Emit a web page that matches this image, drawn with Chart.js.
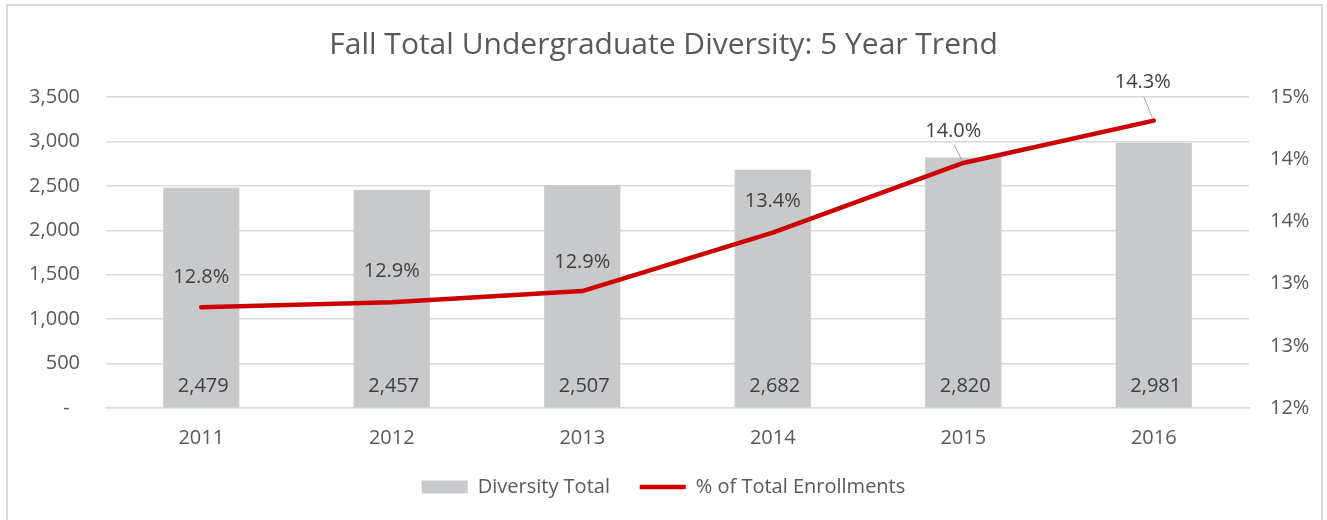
<!DOCTYPE html>
<html>
<head>
<meta charset="utf-8">
<script src="https://cdn.jsdelivr.net/npm/chart.js@4.4.1/dist/chart.umd.min.js"></script>
<style>
  html, body { margin: 0; padding: 0; background: #fff; }
  #wrap { position: relative; width: 1327px; height: 520px; }
</style>
</head>
<body>
<div id="wrap"><canvas id="c" width="1327" height="520"></canvas></div>
<script>
// Fall undergraduate diversity headcount and its share of total enrollment
const years = ['2011', '2012', '2013', '2014', '2015', '2016'];
const diversityTotal = [2479, 2457, 2507, 2682, 2820, 2981];
const pctOfEnrollment = [12.81, 12.85, 12.94, 13.41, 13.97, 14.31];
const pctLabels = ['12.8%', '12.9%', '12.9%', '13.4%', '14.0%', '14.3%'];

const FONT = '"Open Sans", "DejaVu Sans", sans-serif';
const AXIS_TEXT = '#595959';
const LABEL_TEXT = '#404040';
const GRID = '#D9D9D9';

// label nudges for the percentage callouts (dx, dy from the point, px)
const pctLabelNudge = [[0, -30], [0, -31], [0, -29], [0, -31], [-10, -32], [-11, -38]];

const chartFrame = {
  id: 'chartFrame',
  beforeDraw(chart) {
    const ctx = chart.ctx;
    ctx.save();
    ctx.fillStyle = '#fff';
    ctx.fillRect(0, 0, chart.width, chart.height);
    ctx.strokeStyle = GRID;
    ctx.lineWidth = 2;
    ctx.strokeRect(7, 5, 1315, 530);
    ctx.restore();
  }
};

const valueLabels = {
  id: 'valueLabels',
  afterDatasetsDraw(chart) {
    const ctx = chart.ctx;
    ctx.save();
    ctx.font = '20px ' + FONT;
    ctx.fillStyle = LABEL_TEXT;
    ctx.textAlign = 'center';
    ctx.textBaseline = 'middle';
    const yBase = chart.scales.y.getPixelForValue(0);
    // bar totals sit just inside the base of each bar
    chart.getDatasetMeta(1).data.forEach((bar, i) => {
      ctx.fillText(diversityTotal[i].toLocaleString('en-US'), bar.x + 2, yBase - 22);
    });
    // percentage callouts above the line, with leader lines where nudged sideways
    chart.getDatasetMeta(0).data.forEach((pt, i) => {
      const [dx, dy] = pctLabelNudge[i];
      const tx = pt.x + dx, ty = pt.y + dy;
      if (dx !== 0) {
        ctx.strokeStyle = '#A6A6A6';
        ctx.lineWidth = 1;
        ctx.beginPath();
        ctx.moveTo(tx + 1, ty + 14);
        ctx.lineTo(pt.x - 1, pt.y - 2);
        ctx.stroke();
      }
      ctx.fillText(pctLabels[i], tx, ty);
    });
    ctx.restore();
  }
};

new Chart(document.getElementById('c'), {
  data: {
    labels: years,
    datasets: [
      {
        type: 'line',
        label: '% of Total Enrollments',
        data: pctOfEnrollment,
        yAxisID: 'y1',
        borderColor: '#CC0000',
        backgroundColor: '#CC0000',
        borderWidth: 4.5,
        borderCapStyle: 'round',
        borderJoinStyle: 'round',
        pointRadius: 0,
        tension: 0,
        order: 0
      },
      {
        type: 'bar',
        label: 'Diversity Total',
        data: diversityTotal,
        yAxisID: 'y',
        backgroundColor: '#C8C9CB',
        borderWidth: 0,
        categoryPercentage: 1,
        barPercentage: 0.4,
        order: 1
      }
    ]
  },
  options: {
    responsive: false,
    animation: false,
    layout: { padding: { left: 0, right: 0, top: 0, bottom: 13 } },
    plugins: {
      title: {
        display: true,
        text: 'Fall Total Undergraduate Diversity: 5 Year Trend',
        color: AXIS_TEXT,
        font: { family: FONT, size: 30, weight: 'normal' },
        padding: { top: 27, bottom: 34 }
      },
      legend: {
        position: 'bottom',
        reverse: true,
        labels: {
          color: AXIS_TEXT,
          font: { family: FONT, size: 20 },
          usePointStyle: true,
          pointStyleWidth: 46,
          boxHeight: 13,
          padding: 9,
          generateLabels(chart) {
            const items = Chart.defaults.plugins.legend.labels.generateLabels(chart);
            items.forEach(it => {
              if (it.datasetIndex === 1) {
                it.pointStyle = 'rect';
                it.text = it.text + '    ';
              } else {
                it.pointStyle = 'line';
              }
            });
            return items;
          }
        }
      },
      tooltip: { enabled: false }
    },
    scales: {
      x: {
        grid: { display: false, drawTicks: false },
        border: { color: GRID, width: 1.5 },
        ticks: { color: AXIS_TEXT, font: { family: FONT, size: 20 }, padding: 18 }
      },
      y: {
        position: 'left',
        min: 0,
        max: 3500,
        afterFit(s) { s.width = 106; },
        grid: { color: GRID, lineWidth: 1.5, drawTicks: false },
        border: { display: false },
        ticks: {
          stepSize: 500,
          color: AXIS_TEXT,
          font: { family: FONT, size: 20 },
          padding: 26,
          callback: v => v === 0 ? '-  ' : v.toLocaleString('en-US')
        }
      },
      y1: {
        position: 'right',
        min: 12,
        max: 14.5,
        afterFit(s) { s.width = 78; },
        grid: { display: false, drawTicks: false },
        border: { display: false },
        ticks: {
          stepSize: 0.5,
          color: AXIS_TEXT,
          font: { family: FONT, size: 20 },
          padding: 21,
          callback: v => Math.round(v) + '%'
        }
      }
    }
  },
  plugins: [chartFrame, valueLabels]
});
</script>
</body>
</html>
